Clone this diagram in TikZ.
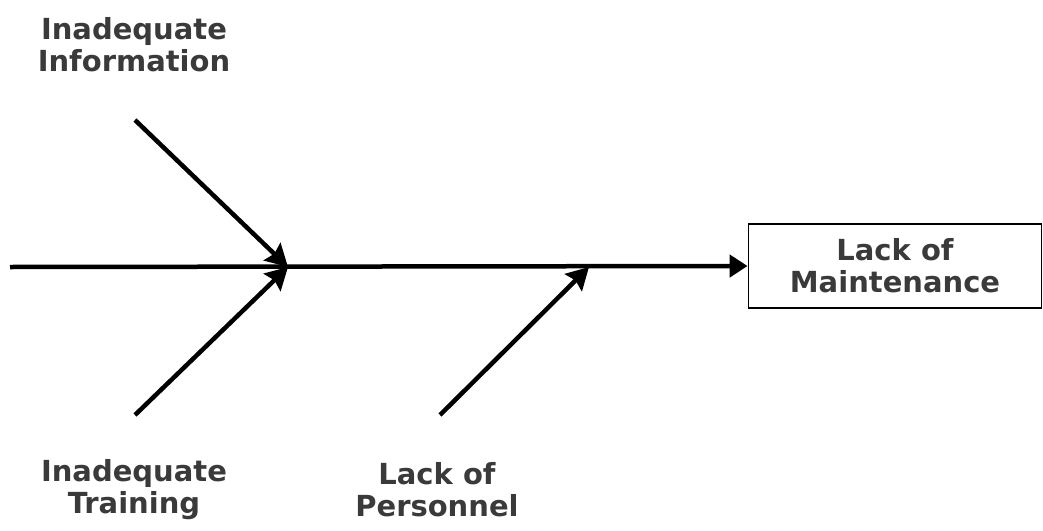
\documentclass[tikz,border=0pt]{standalone}
\usepackage{fontspec}
\setmainfont{DejaVu Sans}
\usetikzlibrary{arrows.meta}
\definecolor{labelgray}{HTML}{3A3A3A}
\begin{document}
\begin{tikzpicture}[x=1pt,y=-1pt,
  bone/.style={line width=4.5pt,-{Stealth[length=22pt,width=24pt,inset=3pt]}},
  spine/.style={line width=4.5pt,-{Triangle[length=18pt,width=22pt]}},
  cause/.style={align=center,text=labelgray,font=\bfseries\fontsize{29}{32}\selectfont,inner sep=0pt},
  effectbox/.style={draw,line width=1.8pt,minimum width=293pt,minimum height=84pt,align=center,
    text=labelgray,font=\bfseries\fontsize{29}{32}\selectfont,inner sep=0pt}]
\useasboundingbox (0,0) rectangle (1043,530);
\fill[white] (0,0) rectangle (1043,530);

% effect box
\node[effectbox] (effect) at (895,266) {Lack of\\Maintenance};

% spine and junction points
\coordinate (tail) at (10,267);
\coordinate (j1) at (288,267);
\coordinate (j2) at (589,267);
\draw[spine] (tail) -- (effect.west);

% bones
\coordinate (b1) at (135,120);
\coordinate (b2) at (135,415);
\coordinate (b3) at (440,415);
\draw[bone] (b1) -- (j1);
\draw[bone] (b2) -- (j1);
\draw[bone] (b3) -- (j2);

% cause labels
\node[cause] (info) at (134,45) {Inadequate\\Information};
\node[cause] (train) at (134,490) {Inadequate\\Training};
\node[cause] (staff) at (437,490) {Lack of\\Personnel};
\end{tikzpicture}
\end{document}
